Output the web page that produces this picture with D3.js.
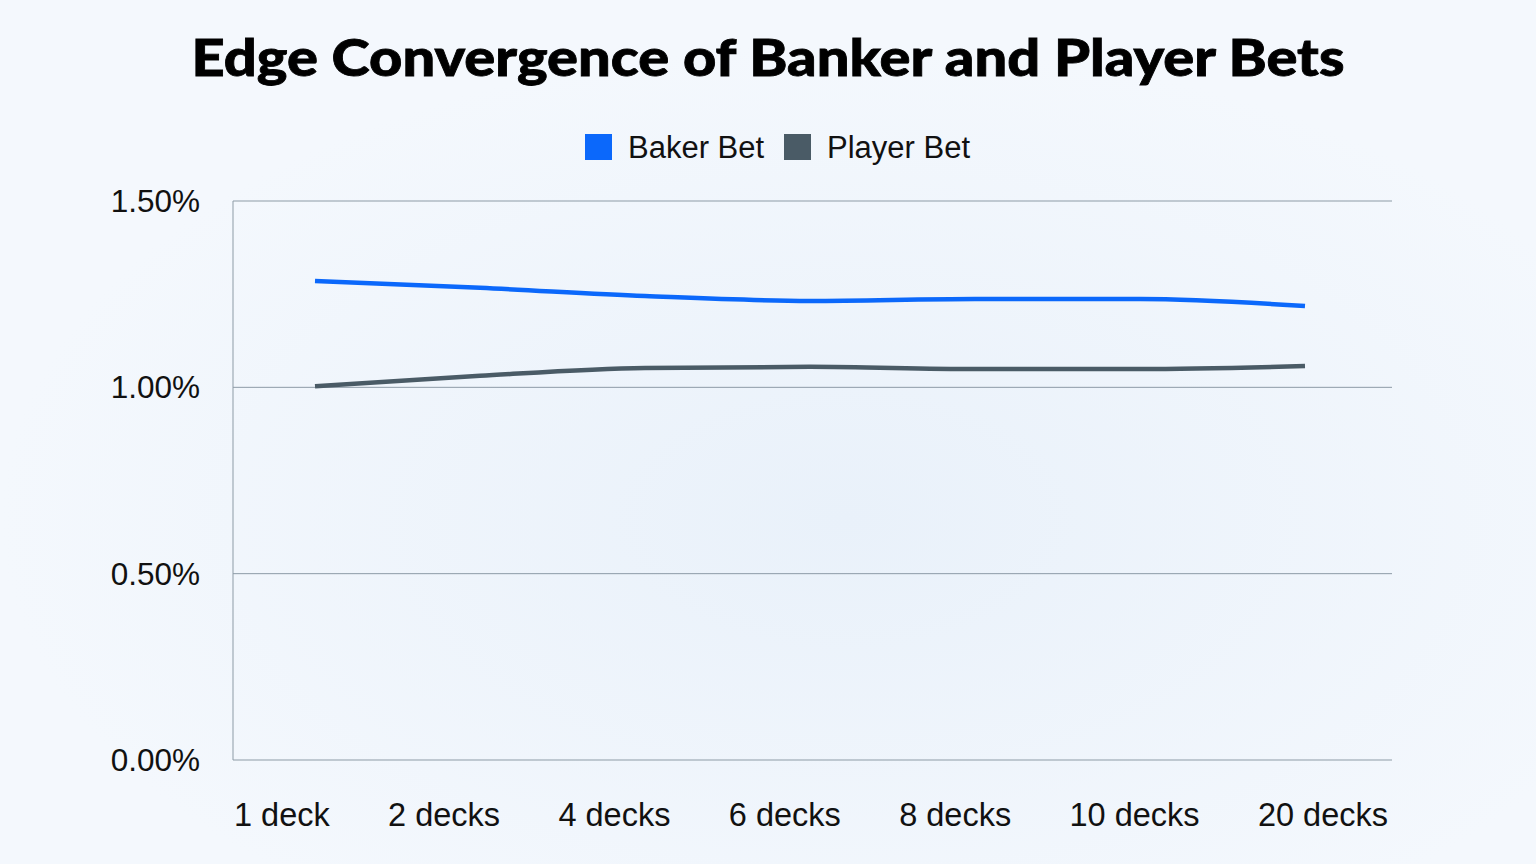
<!DOCTYPE html>
<html><head><meta charset="utf-8">
<script src="https://cdn.jsdelivr.net/npm/d3@7"></script>
<style>html,body{margin:0;padding:0;background:#f4f8fd;}svg{display:block}</style>
</head><body>
<script>
const categories = ["1 deck","2 decks","4 decks","6 decks","8 decks","10 decks","20 decks"];
const bankerValues = [1.285, 1.267, 1.245, 1.232, 1.237, 1.237, 1.218];
const playerValues = [1.003, 1.031, 1.052, 1.055, 1.049, 1.049, 1.057];
const yTicks = [0, 0.5, 1.0, 1.5];
const seriesNames = ["Baker Bet", "Player Bet"];
const seriesColors = ["#0b68fb", "#4a5b66"];

const W = 1536, H = 864;
const svg = d3.select("body").append("svg").attr("width", W).attr("height", H);
const defs = svg.append("defs");
const rg = defs.append("radialGradient").attr("id","bg").attr("cx","0.55").attr("cy","0.6").attr("r","0.55");
rg.append("stop").attr("offset","0").attr("stop-color","#e9f1fa");
rg.append("stop").attr("offset","1").attr("stop-color","#f4f8fd");
svg.append("rect").attr("width",W).attr("height",H).attr("fill","url(#bg)");

const plot = {left:233, right:1392, top:201, bottom:760};
const y = d3.scaleLinear().domain([0,1.5]).range([plot.bottom, plot.top]);
const x = d3.scalePoint().domain(categories).range([315,1305]);

// gridlines
svg.append("g").selectAll("line").data(yTicks).join("line")
  .attr("x1",plot.left).attr("x2",plot.right)
  .attr("y1",d=>y(d)).attr("y2",d=>y(d))
  .attr("stroke","#8d9ba6").attr("stroke-width",1);
svg.append("line").attr("x1",plot.left).attr("x2",plot.left)
  .attr("y1",plot.top).attr("y2",plot.bottom).attr("stroke","#8d9ba6").attr("stroke-width",1);

// y tick labels
svg.append("g").selectAll("text").data(yTicks).join("text")
  .attr("x",200).attr("y",d=>y(d)+11)
  .attr("text-anchor","end")
  .attr("font-family","Liberation Sans, Arial, sans-serif")
  .attr("font-size",31.5).attr("fill","#111")
  .text(d=>d3.format(".2f")(d)+"%");

// x labels with equal gaps between 234 and 1388
const xl = svg.append("g").selectAll("text").data(categories).join("text")
  .attr("y",826)
  .attr("font-family","Liberation Sans, Arial, sans-serif")
  .attr("font-size",32.5).attr("fill","#111")
  .text(d=>d);
const widths = xl.nodes().map(n=>n.getComputedTextLength());
const totalW = d3.sum(widths);
const gap = (1388-234-totalW)/(categories.length-1);
let cx = 234;
xl.each(function(d,i){ d3.select(this).attr("x",cx); cx += widths[i]+gap; });

// lines
const line = d3.line().x((d,i)=>x(categories[i])).y(d=>y(d)).curve(d3.curveMonotoneX);
[bankerValues, playerValues].forEach((vals,i)=>{
  svg.append("path").datum(vals).attr("d",line)
    .attr("fill","none").attr("stroke",seriesColors[i]).attr("stroke-width",4.5)
    .attr("stroke-linecap","butt");
});

// title
svg.append("text").attr("x",768).attr("y",76).attr("text-anchor","middle")
  .attr("font-family","Lato, Inter, sans-serif").attr("font-weight",900)
  .attr("font-size",51).attr("fill","#000")
  .attr("stroke","#000").attr("stroke-width",0.8)
  .attr("textLength",1153).attr("lengthAdjust","spacingAndGlyphs")
  .text("Edge Convergence of Banker and Player Bets");

// legend
const legX = [585, 784];
const leg = svg.append("g").selectAll("g").data(seriesNames).join("g")
  .attr("transform",(d,i)=>`translate(${legX[i]},134)`);
leg.append("rect").attr("width",27).attr("height",26).attr("fill",(d,i)=>seriesColors[i]);
leg.append("text").attr("x",43).attr("y",24)
  .attr("font-family","Liberation Sans, Arial, sans-serif")
  .attr("font-size",31).attr("fill","#111")
  .text(d=>d);
</script>
</body></html>
